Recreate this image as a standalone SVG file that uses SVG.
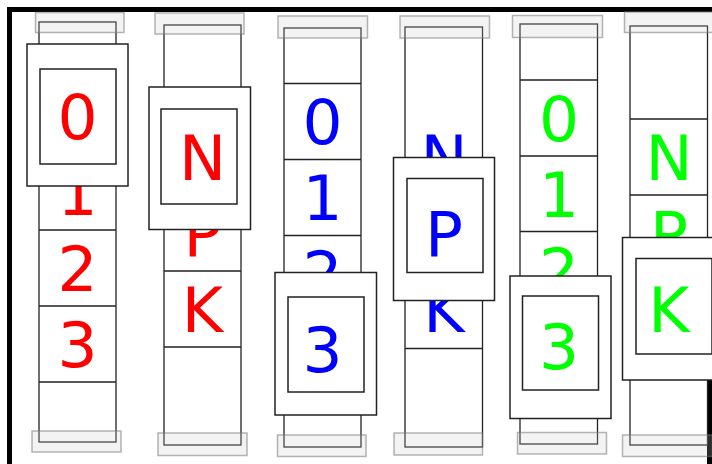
<svg xmlns="http://www.w3.org/2000/svg" width="712" height="464" viewBox="0 0 712 464">
<style>
.strip{fill:#fff;stroke:#222;stroke-width:1.3}
.cell{stroke:#222;stroke-width:1.3}
.win{fill:#fff;stroke:#222;stroke-width:1.5}
.cap{fill:rgba(200,200,200,0.22);stroke:rgba(120,120,120,0.55);stroke-width:1.5}
.t{font-family:"DejaVu Sans",Verdana,sans-serif;font-size:63px;text-anchor:middle}
.r{fill:#ff0000}.b{fill:#0000ff}.g{fill:#00ff00}
.frame{fill:none;stroke:#000;stroke-width:5}
</style>
<rect width="712" height="464" fill="#fff"/>
<path class="frame" d="M9.5,470 V9.5 H715"/>
<path class="frame" d="M709.5,380 V470"/>

<g id="reel1">
<rect class="strip" x="39" y="22" width="77" height="420"/>
<path class="cell" d="M39,230H116M39,306H116M39,382H116"/>
<text class="t r" x="77.5" y="139">0</text>
<text class="t r" x="77.5" y="215">1</text>
<text class="t r" x="77.5" y="291">2</text>
<text class="t r" x="77.5" y="367">3</text>
<rect class="win" x="27" y="44" width="101" height="142"/>
<rect class="win" x="40" y="69" width="76" height="95"/>
<text class="t r" x="77.5" y="139">0</text>
<rect class="cap" x="35.5" y="12.5" width="88.5" height="20"/>
<rect class="cap" x="32" y="431" width="89" height="21"/>
</g>

<g id="reel2">
<rect class="strip" x="164" y="25" width="77" height="420"/>
<path class="cell" d="M164,271H241M164,347H241"/>
<text class="t r" x="202.5" y="180">N</text>
<text class="t r" x="202.5" y="256">P</text>
<text class="t r" x="202.5" y="332">K</text>
<rect class="win" x="149" y="87" width="101.5" height="142.5"/>
<rect class="win" x="161" y="109" width="76" height="95"/>
<text class="t r" x="202.5" y="180">N</text>
<rect class="cap" x="155" y="13" width="89" height="21"/>
<rect class="cap" x="158" y="433" width="89" height="22.5"/>
</g>

<g id="reel3">
<rect class="strip" x="284" y="28" width="77" height="419"/>
<path class="cell" d="M284,83.5H361M284,159.5H361M284,235.5H361"/>
<text class="t b" x="322.5" y="144">0</text>
<text class="t b" x="322.5" y="220">1</text>
<text class="t b" x="322.5" y="296">2</text>
<rect class="win" x="275" y="272.5" width="101.5" height="142.5"/>
<rect class="win" x="288" y="297" width="76" height="95"/>
<text class="t b" x="322.5" y="372">3</text>
<rect class="cap" x="278" y="16" width="89.5" height="22"/>
<rect class="cap" x="277.5" y="435" width="88.5" height="21.5"/>
</g>

<g id="reel4">
<rect class="strip" x="405" y="27" width="77.5" height="420"/>
<path class="cell" d="M405,348.5H482.5"/>
<text class="t b" x="444" y="180">N</text>
<text class="t b" x="444" y="332">K</text>
<rect class="win" x="393.5" y="157.5" width="101" height="143"/>
<rect class="win" x="407" y="178.5" width="76" height="94"/>
<text class="t b" x="444" y="256">P</text>
<rect class="cap" x="400" y="16" width="89.5" height="22"/>
<rect class="cap" x="394" y="433" width="88.5" height="22"/>
</g>

<g id="reel5">
<rect class="strip" x="520" y="24" width="77.5" height="420"/>
<path class="cell" d="M520,80H597.5M520,156H597.5M520,231.5H597.5"/>
<text class="t g" x="559" y="141">0</text>
<text class="t g" x="559" y="216.5">1</text>
<text class="t g" x="559" y="292.5">2</text>
<rect class="win" x="510" y="276" width="101" height="142.5"/>
<rect class="win" x="522.5" y="296" width="76" height="94"/>
<text class="t g" x="559" y="368.5">3</text>
<rect class="cap" x="512.5" y="15.5" width="90" height="22"/>
<rect class="cap" x="517.5" y="432.5" width="89" height="21.5"/>
</g>

<g id="reel6">
<rect class="strip" x="630" y="26" width="77.5" height="419"/>
<path class="cell" d="M630,119H707.5M630,195H707.5"/>
<text class="t g" x="669" y="180">N</text>
<text class="t g" x="669" y="256">P</text>
<rect class="win" x="622.5" y="237.5" width="101" height="142.5"/>
<rect class="win" x="636" y="258.5" width="76" height="95.5"/>
<text class="t g" x="669" y="332">K</text>
<rect class="cap" x="624.5" y="12" width="89" height="20.5"/>
<rect class="cap" x="622.5" y="435" width="90" height="21.5"/>
</g>
</svg>
